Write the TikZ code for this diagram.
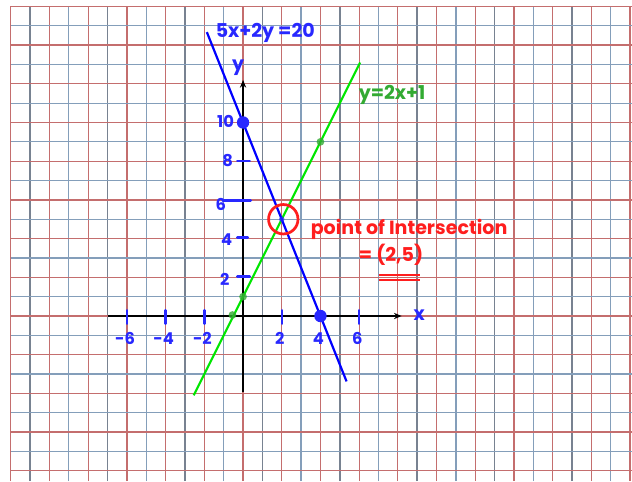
\documentclass[tikz,border=0pt]{standalone}
\usepackage{fontspec}
\setmainfont{Poppins}
\usepackage{tikz}
\usetikzlibrary{arrows.meta,positioning}

\definecolor{gridred}{RGB}{196,110,110}
\definecolor{griddark}{RGB}{140,92,92}
\definecolor{gridblue}{RGB}{132,158,186}
\definecolor{gridgray}{RGB}{120,130,145}
\definecolor{penblue}{RGB}{40,40,255}
\definecolor{pengreen}{RGB}{0,230,0}
\definecolor{inkgreen}{RGB}{50,170,50}
\definecolor{penred}{RGB}{255,30,30}

\begin{document}
\begin{tikzpicture}[
  x=0.5cm,y=0.5cm,
  every node/.style={inner sep=0pt},
  bluetext/.style={text=penblue,font=\fontsize{14}{14}\selectfont\bfseries},
  ticktext/.style={text=penblue,font=\fontsize{12}{12}\selectfont\bfseries},
  redtext/.style={text=penred,font=\fontsize{14}{14}\selectfont\bfseries},
  axis/.style={line width=2pt,-{Stealth[length=2mm,width=1.6mm]}},
  graphline/.style={line width=1.6pt},
  tick/.style={penblue,line width=1.8pt,line cap=round},
  bigdot/.style={circle,fill=penblue,minimum size=3.2mm},
  greendot/.style={circle,fill=inkgreen,fill opacity=0.8,minimum size=2mm}
]
\useasboundingbox (-12.56,-8.53) rectangle (20.1,16.33);
\fill[white] (-12.56,-8.53) rectangle (20.1,16.33);

% squared paper
\foreach \i in {-12,...,20} {
  \ifodd\numexpr\i+100\relax
    \ifnum\numexpr\i+100-4*((\i+100)/4)\relax=1
      \draw[gridgray,line width=1.1pt] (\i,-8.53) -- (\i,16);
    \else
      \draw[gridblue,line width=0.9pt] (\i,-8.53) -- (\i,16);
    \fi
  \else
    \ifnum\numexpr\i+100-4*((\i+100)/4)\relax=2
      \draw[griddark,line width=1.1pt] (\i,-8.53) -- (\i,16);
    \else
      \draw[gridred,line width=0.9pt] (\i,-8.53) -- (\i,16);
    \fi
  \fi
}
\foreach \j in {-8,...,16} {
  \ifodd\numexpr\j+100\relax
    \draw[gridblue,line width=0.9pt] (-12,\j) -- (20.1,\j);
  \else
    \ifnum\numexpr\j+100-4*((\j+100)/4)\relax=2
      \draw[griddark,line width=1.1pt] (-12,\j) -- (20.1,\j);
    \else
      \draw[gridred,line width=0.9pt] (-12,\j) -- (20.1,\j);
    \fi
  \fi
}

% axes
\coordinate (xstart) at (-7,0);
\coordinate (xend) at (8.2,0);
\coordinate (ystart) at (0,-3.95);
\coordinate (yend) at (0,12.2);
\draw[axis] (xstart) -- (xend);
\draw[axis] (ystart) -- (yend);
\node[bluetext] (xlab) at (9.1,0.05) {x};
\node[bluetext] (ylab) at (-0.25,12.85) {y};

% ticks on the x axis
\foreach \t in {-6,-4,-2,2,6}
  \draw[tick] (\t,-0.4) -- (\t,0.3);
\foreach \t/\name in {-6/xm6,-4/xm4,-2/xm2,2/xp2,4/xp4,6/xp6}
  \node[ticktext] (\name) at (\t-0.1,-1.15) {\t};

% ticks on the y axis
\draw[tick] (-0.3,8) -- (0.35,8);
\draw[tick] (-1.05,5.97) -- (0.4,5.97);
\draw[tick] (-0.3,4.05) -- (0.25,4.05);
\draw[tick] (-0.3,2.05) -- (0.35,2.05);
\node[ticktext] (y10) at (-0.9,10.05) {10};
\node[ticktext] (y8) at (-0.8,8.05) {8};
\node[ticktext] (y6) at (-1.15,5.75) {6};
\node[ticktext] (y4) at (-0.85,3.95) {4};
\node[ticktext] (y2) at (-0.95,1.9) {2};

% the two lines
\coordinate (blueA) at (-1.87,14.67);
\coordinate (blueB) at (5.35,-3.38);
\coordinate (greenA) at (-2.55,-4.1);
\coordinate (greenB) at (6.05,13.1);
\draw[graphline,pengreen] (greenA) -- (greenB);
\draw[graphline,blue] (blueA) -- (blueB);

% marked points
\node[bigdot] (p010) at (0,10) {};
\node[bigdot] (p40) at (4,0) {};
\node[greendot] (p01) at (0,1) {};
\node[greendot] (pm0) at (-0.55,0.05) {};
\node[greendot] (p49) at (4,9) {};
\node[circle,fill=penblue,fill opacity=0.7,minimum size=1.4mm] (p25) at (2,5) {};
\node[circle,draw=penred,line width=2pt,minimum size=7.6mm] (ring) at (2.08,5.0) {};

% labels
\node[bluetext] (blueeq) at (1.15,14.65) {5x+2y =20};
\node[text=inkgreen,font=\fontsize{14}{14}\selectfont\bfseries] (greeneq) at (7.7,11.45) {y=2x+1};
\node[redtext] (poi) at (8.58,4.5) {point of Intersection};
\node[redtext] (poival) at (7.65,3.15) {= (2,5)};
\coordinate (ulA) at (7.0,2.12);
\coordinate (ulB) at (9.15,2.12);
\coordinate (ulC) at (7.0,1.88);
\coordinate (ulD) at (9.15,1.88);
\draw[penred,line width=1.5pt] (ulA) -- (ulB);
\draw[penred,line width=1.5pt] (ulC) -- (ulD);
\end{tikzpicture}
\end{document}
